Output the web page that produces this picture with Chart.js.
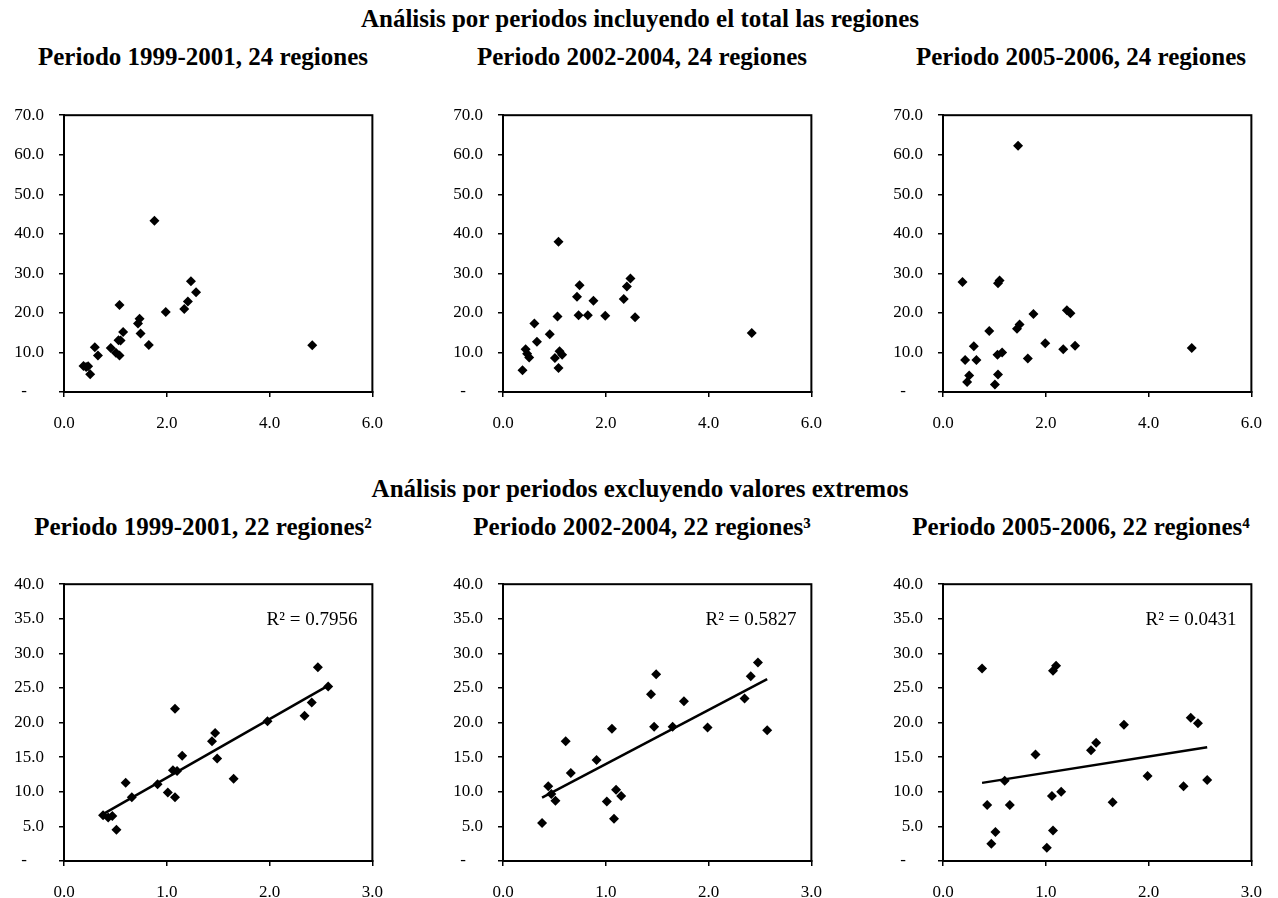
<!DOCTYPE html>
<html><head><meta charset="utf-8">
<script src="https://cdn.jsdelivr.net/npm/chart.js@4.4.1/dist/chart.umd.min.js"></script>
<style>
html,body{margin:0;padding:0;background:#fff;}
body{width:1278px;height:898px;position:relative;overflow:hidden;font-family:"Liberation Serif",serif;color:#000;}
.t{position:absolute;font-weight:bold;font-size:25px;white-space:nowrap;transform:translate(-50%,-50%);line-height:1;}
canvas{position:absolute;}
</style></head><body>
<div class="t" style="left:640px;top:18px">Análisis por periodos incluyendo el total las regiones</div>
<div class="t" style="left:203px;top:56px">Periodo 1999-2001, 24 regiones</div>
<div class="t" style="left:642px;top:56px">Periodo 2002-2004, 24 regiones</div>
<div class="t" style="left:1081px;top:56px">Periodo 2005-2006, 24 regiones</div>
<div class="t" style="left:640px;top:488px">Análisis por periodos excluyendo valores extremos</div>
<div class="t" style="left:203px;top:526px">Periodo 1999-2001, 22 regiones²</div>
<div class="t" style="left:642px;top:526px">Periodo 2002-2004, 22 regiones³</div>
<div class="t" style="left:1081px;top:526px">Periodo 2005-2006, 22 regiones⁴</div>
<canvas id="c1"></canvas><canvas id="c2"></canvas><canvas id="c3"></canvas>
<canvas id="c4"></canvas><canvas id="c5"></canvas><canvas id="c6"></canvas>
<script>
// ---- Data ----
// Bottom row: 22 regions, extreme values excluded
const xP1 = [0.38,0.43,0.47,0.51,0.60,0.66,0.91,1.01,1.06,1.08,1.10,1.08,1.15,1.44,1.47,1.49,1.65,1.98,2.34,2.41,2.47,2.57];
const yP1 = [6.6,6.3,6.5,4.5,11.3,9.2,11.1,9.9,13.1,22.0,13.0,9.2,15.2,17.3,18.5,14.8,11.9,20.2,21.0,22.9,28.0,25.2];
const xP2 = [0.38,0.44,0.47,0.51,0.61,0.66,0.91,1.01,1.06,1.08,1.10,1.15,1.44,1.47,1.49,1.65,1.76,1.99,2.35,2.41,2.48,2.57];
const yP2 = [5.5,10.8,9.7,8.7,17.3,12.7,14.6,8.6,19.1,6.1,10.3,9.4,24.1,19.4,27.0,19.4,23.1,19.3,23.5,26.7,28.7,18.9];
const xP3 = [0.38,0.43,0.47,0.51,0.60,0.65,0.90,1.01,1.06,1.07,1.07,1.10,1.15,1.44,1.49,1.65,1.76,1.99,2.34,2.41,2.48,2.57];
const yP3 = [27.8,8.1,2.5,4.2,11.6,8.1,15.4,1.9,9.4,4.4,27.5,28.2,10.0,16.0,17.1,8.5,19.7,12.3,10.8,20.7,19.9,11.7];
// Extreme values (only in the top row, all 24 regions)
const xExt1 = [1.76,4.83];
const yExt1 = [43.3,11.8];
const xExt2 = [1.08,4.84];
const yExt2 = [38.0,14.9];
const xExt3 = [1.46,4.84];
const yExt3 = [62.3,11.1];
// R² labels
const r2Labels = ['R² = 0.7956','R² = 0.5827','R² = 0.0431'];
// Axis ranges / ticks
const topX = {min:0,max:6,step:2};
const topY = {min:0,max:70,step:10};
const botX = {min:0,max:3,step:1};
const botY = {min:0,max:40,step:5};

// ---- Helpers ----
const FONT = '"Liberation Serif", serif';
const pts = (xs, ys) => xs.map((x,i)=>({x:x, y:ys[i]}));
function trend(xs, ys){
  const n = xs.length;
  const mx = xs.reduce((a,b)=>a+b,0)/n, my = ys.reduce((a,b)=>a+b,0)/n;
  let sxy=0, sxx=0;
  for(let i=0;i<n;i++){ sxy += (xs[i]-mx)*(ys[i]-my); sxx += (xs[i]-mx)*(xs[i]-mx); }
  const b = sxy/sxx, a = my - b*mx;
  const x0 = Math.min(...xs), x1 = Math.max(...xs);
  return [{x:x0,y:a+b*x0},{x:x1,y:a+b*x1}];
}
const boxPlugin = {
  id:'box',
  afterDraw(chart){
    const {ctx, chartArea:ca} = chart;
    ctx.save(); ctx.strokeStyle='#000'; ctx.lineWidth=2;
    ctx.strokeRect(ca.left, ca.top, ca.right-ca.left, ca.bottom-ca.top);
    const t = chart.options.plugins.box && chart.options.plugins.box.text;
    if (t){
      ctx.fillStyle='#000'; ctx.font='19px '+FONT; ctx.textAlign='right'; ctx.textBaseline='middle';
      ctx.fillText(t, ca.right-15, ca.top+36);
    }
    ctx.restore();
  }
};

const PL = [64,503,943], PW = 321;
const rows = [{top:102,bottom:392},{top:571,bottom:861}];
const YW = 60, XH = 48, PADT = 12, PADR = 14;

function make(id, col, row, scatter, line, xr, yr, r2){
  const cv = document.getElementById(id);
  const r = rows[row];
  const w = YW + PW + PADR, h = PADT + (r.bottom-r.top) + XH;
  cv.width = w; cv.height = h;
  cv.style.left = (PL[col]-YW)+'px'; cv.style.top = (r.top-PADT)+'px';
  cv.style.width = w+'px'; cv.style.height = h+'px';
  const datasets = [];
  if (line) datasets.push({data:line, showLine:true, borderColor:'#000', borderWidth:2.5, pointRadius:0, fill:false});
  datasets.push({data:scatter, pointStyle:'rectRot', pointRadius:5, pointHoverRadius:5, backgroundColor:'#000', borderColor:'#000', borderWidth:0});
  new Chart(cv, {
    type:'scatter',
    data:{datasets},
    options:{
      responsive:false, animation:false, devicePixelRatio:1,
      layout:{padding:{top:PADT,right:PADR,left:0,bottom:0}},
      plugins:{legend:{display:false}, tooltip:{enabled:false}, box:{text:r2}},
      events:[],
      scales:{
        x:{type:'linear', min:xr.min, max:xr.max,
           afterFit(s){ s.height = XH; },
           ticks:{stepSize:xr.step, color:'#000', padding:16, maxRotation:0, font:{family:FONT,size:17},
                  callback:v=>Number(v).toFixed(1)},
           grid:{drawOnChartArea:false, drawTicks:true, tickLength:5, color:'#000', lineWidth:1.5},
           border:{display:true, color:'#000', width:2}},
        y:{type:'linear', min:yr.min, max:yr.max,
           afterFit(s){ s.width = YW; },
           ticks:{stepSize:yr.step, color:'#000', padding:15, font:{family:FONT,size:17},
                  callback:v=> v===0 ? '-    ' : Number(v).toFixed(1)},
           grid:{drawOnChartArea:false, drawTicks:true, tickLength:5, color:'#000', lineWidth:1.5},
           border:{display:true, color:'#000', width:2}}
      }
    },
    plugins:[boxPlugin]
  });
}

make('c1',0,0, pts(xP1.concat(xExt1), yP1.concat(yExt1)), null, topX, topY, '');
make('c2',1,0, pts(xP2.concat(xExt2), yP2.concat(yExt2)), null, topX, topY, '');
make('c3',2,0, pts(xP3.concat(xExt3), yP3.concat(yExt3)), null, topX, topY, '');
make('c4',0,1, pts(xP1,yP1), trend(xP1,yP1), botX, botY, r2Labels[0]);
make('c5',1,1, pts(xP2,yP2), trend(xP2,yP2), botX, botY, r2Labels[1]);
make('c6',2,1, pts(xP3,yP3), trend(xP3,yP3), botX, botY, r2Labels[2]);
</script>
</body></html>
